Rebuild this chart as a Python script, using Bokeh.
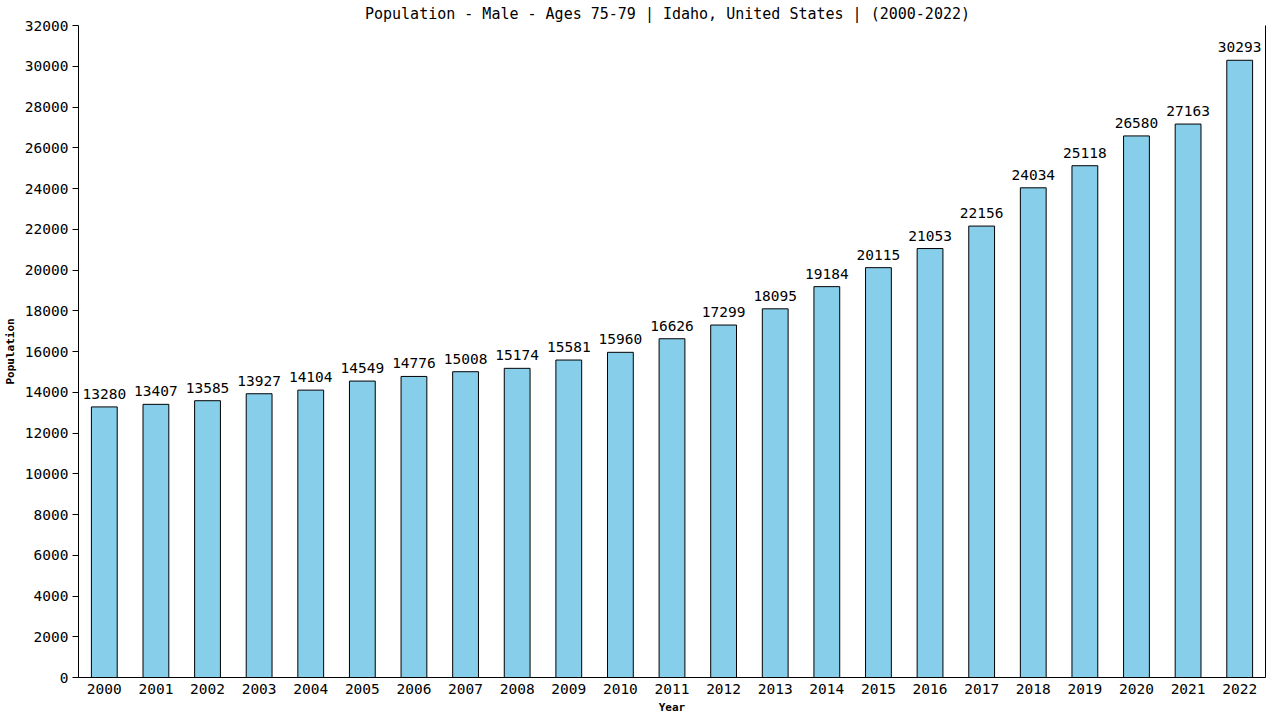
from bokeh.plotting import figure
from bokeh.models import ColumnDataSource, LinearAxis, FixedTicker, Range1d, Title
from bokeh.embed import file_html
from bokeh.resources import INLINE

years = [str(y) for y in range(2000, 2023)]
population = [13280, 13407, 13585, 13927, 14104, 14549, 14776, 15008, 15174, 15581,
              15960, 16626, 17299, 18095, 19184, 20115, 21053, 22156, 24034, 25118,
              26580, 27163, 30293]
y_ticks = list(range(0, 32001, 2000))
title_text = "Population - Male - Ages 75-79 | Idaho, United States |  (2000-2022)"

FONT = "DejaVu Sans Mono"

src = ColumnDataSource(dict(year=years, pop=population, lab=[str(v) for v in population]))

p = figure(x_range=years, y_range=Range1d(0, 32000), width=1280, height=720,
           output_backend="svg", toolbar_location=None,
           min_border_left=78, min_border_right=15, min_border_top=25, min_border_bottom=43)
p.title = Title(text=title_text, align="center", text_font=FONT, text_font_size="15px",
                text_font_style="normal", standoff=5, offset=0)
p.title.text_color = "black"

p.vbar(x="year", top="pop", width=0.5, source=src, fill_color="#87CEEB",
       line_color="black", line_width=1)
p.text(x="year", y="pop", text="lab", source=src, text_align="center",
       text_baseline="bottom", y_offset=-8, text_font={"value": FONT},
       text_font_size="14.5px", text_color="black")

p.xgrid.visible = False
p.ygrid.visible = False
p.outline_line_color = None
p.x_range.range_padding = 0

for ax in p.axis:
    ax.axis_line_color = "black"
    ax.major_label_text_font = FONT
    ax.major_label_text_font_size = "14.5px"
    ax.major_label_text_color = "black"
    ax.axis_label_text_font = FONT
    ax.axis_label_text_font_size = "11px"
    ax.axis_label_text_font_style = "bold"
    ax.axis_label_text_color = "black"
    ax.minor_tick_line_color = None

p.xaxis.axis_label = "Year"
p.xaxis.major_tick_line_color = None
p.xaxis.major_tick_out = 0
p.xaxis.major_label_standoff = 6
p.xaxis.axis_label_standoff = 4

p.yaxis.axis_label = "Population"
p.yaxis.ticker = FixedTicker(ticks=y_ticks)
p.yaxis.major_tick_in = 0
p.yaxis.major_tick_out = 6
p.yaxis.major_tick_line_color = "black"
p.yaxis.major_label_standoff = 4
p.yaxis.axis_label_standoff = 5

right = LinearAxis(major_tick_line_color=None, minor_tick_line_color=None,
                   major_label_text_font_size="0px", axis_line_color="black",
                   ticker=FixedTicker(ticks=[]))
p.add_layout(right, "right")

open("out.html", "w").write(file_html(p, INLINE))
